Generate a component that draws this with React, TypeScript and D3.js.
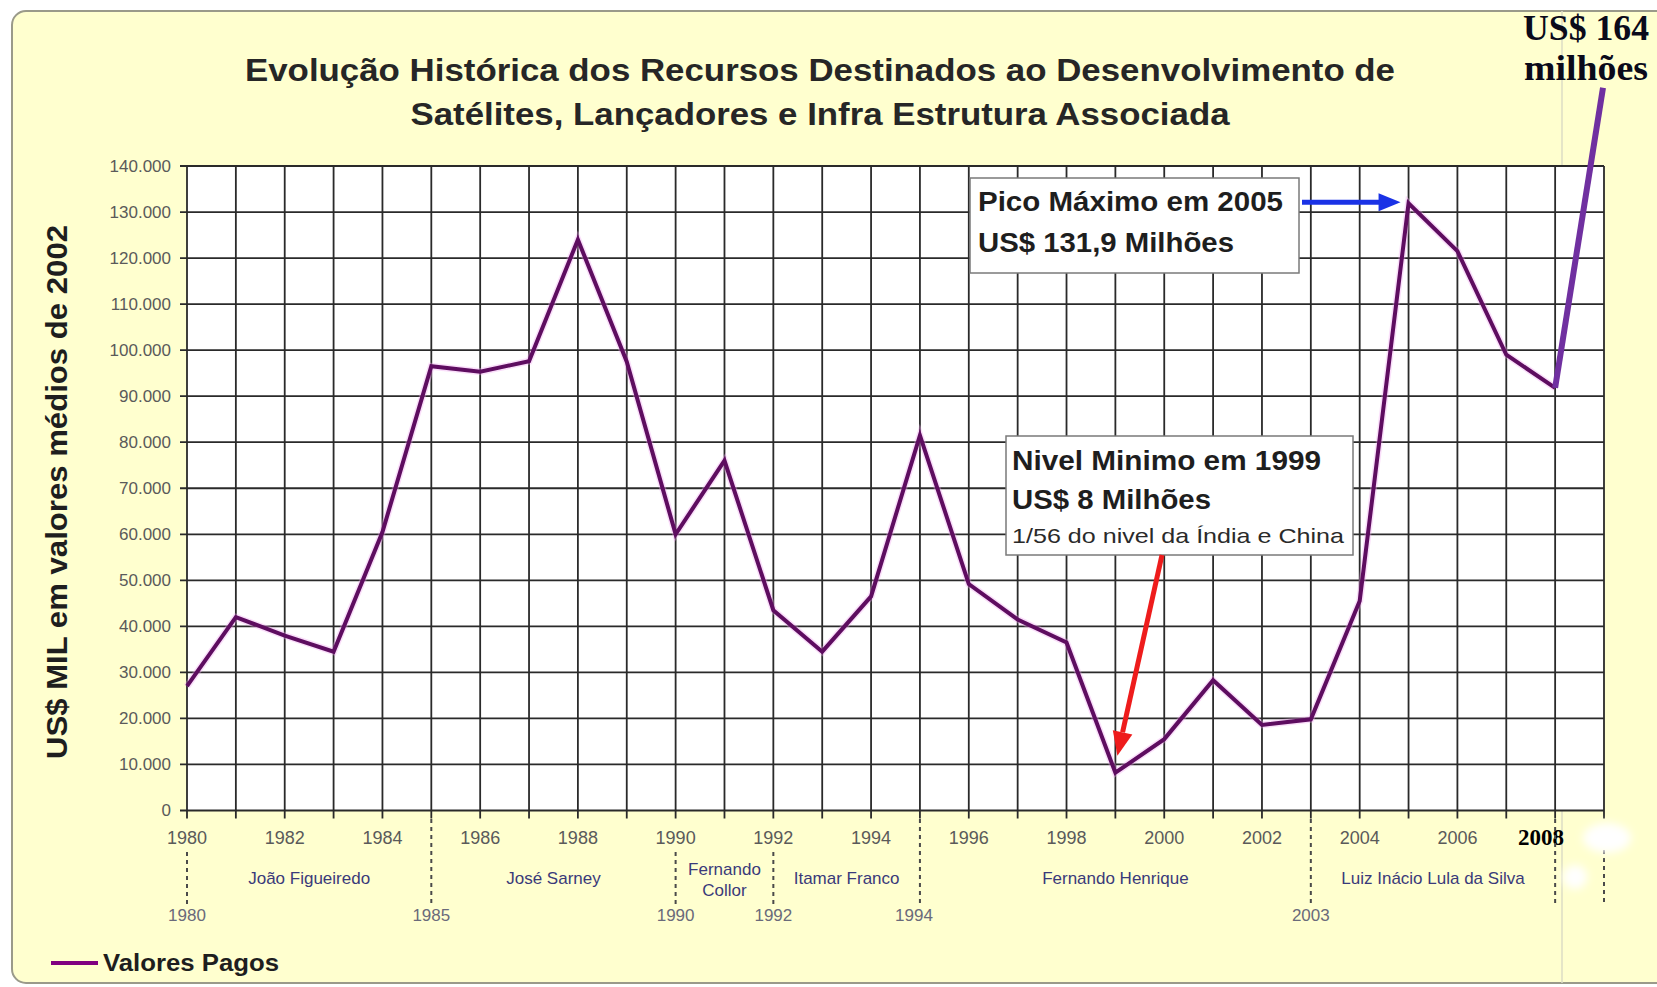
import React from "react";
import * as d3 from "d3";

const years = [1980,1981,1982,1983,1984,1985,1986,1987,1988,1989,1990,1991,1992,1993,1994,1995,1996,1997,1998,1999,2000,2001,2002,2003,2004,2005,2006,2007,2008];
const valoresPagos = [27000,42000,38000,34500,60500,96500,95300,97600,124000,97500,60000,76000,43500,34500,46500,81500,49200,41500,36500,8200,15500,28300,18600,19800,45500,131900,121500,99000,91800];
const yTicks = [0,10000,20000,30000,40000,50000,60000,70000,80000,90000,100000,110000,120000,130000,140000];
const xTickYears = [1980,1982,1984,1986,1988,1990,1992,1994,1996,1998,2000,2002,2004,2006];
const govNames = ["João Figueiredo","José Sarney","Fernando\nCollor","Itamar Franco","Fernando Henrique","Luiz Inácio Lula da Silva"];
const govStart = [1980,1985,1990,1992,1995,2003];
const govEnd = [1985,1990,1992,1995,2003,2008];
const govBoundaryYears = [1980,1985,1990,1992,1995,2003,2008,2009];
const govBoundaryLabels = ["1980","1985","1990","1992","1994","2003","",""];
const titleLines = ["Evolução Histórica dos Recursos Destinados ao Desenvolvimento de","Satélites, Lançadores e Infra Estrutura Associada"];
const yAxisLabel = "US$ MIL em valores médios de 2002";
const peakText = ["Pico Máximo em 2005","US$ 131,9 Milhões"];
const minText = ["Nivel Minimo em 1999","US$ 8 Milhões","1/56 do nivel da Índia e China"];
const pointerLabel = ["US$ 164","milhões"];
const pointerEnd = { year: 2009, value: 157000 };

const W = 1657, H = 987;
const left = 187, right = 1604, top = 166, bottom = 810.5;
const SANS = "'Liberation Sans', Arial, sans-serif";
const SERIF = "'Liberation Serif', 'Times New Roman', serif";

export default function App() {
  const x = d3.scaleLinear().domain([1980, 2009]).range([left, right]);
  const y = d3.scaleLinear().domain([0, 140000]).range([bottom, top]);
  const loc = d3.formatLocale({ decimal: ",", thousands: ".", grouping: [3], currency: ["", ""] });
  const fmt = loc.format(",d");
  const line = d3.line<number>().x((_, i) => x(years[i])).y(d => y(d));
  const gridYears = d3.range(1980, 2010);

  const peakX = x(2005), peakY = y(131900);
  const minX = x(1999), minY = y(8200);
  const lastX = x(2008), lastY = y(91800);

  return (
    <div style={{ position: "absolute", left: 0, top: 0 }}>
      <svg width={W} height={H} style={{ display: "block" }}>
        <defs>
          <filter id="blur" x="-50%" y="-50%" width="200%" height="200%">
            <feGaussianBlur stdDeviation="4" />
          </filter>
        </defs>
        <rect x={0} y={0} width={W} height={H} fill="#ffffff" />
        <rect x={12} y={11} width={1700} height={972} rx={14} fill="#FFFFCF" stroke="#9a9a8a" strokeWidth={2} />
        <line x1={1562} x2={1562} y1={11} y2={983} stroke="#dcdcc4" strokeWidth={1.5} />

        {/* title */}
        {titleLines.map((t, i) => (
          <text key={i} x={820} y={81 + i * 44} textAnchor="middle" fontFamily={SANS} fontWeight="bold" fontSize={32}
            fill="#262626" textLength={i === 0 ? 1150 : 819} lengthAdjust="spacingAndGlyphs">{t}</text>
        ))}

        {/* y label */}
        <text transform={`translate(57,492) rotate(-90)`} textAnchor="middle" dominantBaseline="central"
          fontFamily={SANS} fontWeight="bold" fontSize={29} fill="#1e1e1e" textLength={534} lengthAdjust="spacingAndGlyphs">{yAxisLabel}</text>

        {/* plot area */}
        <rect x={left} y={top} width={right - left} height={bottom - top} fill="#ffffff" />
        {yTicks.map(t => (
          <g key={t}>
            <line x1={left - 7} x2={right} y1={y(t)} y2={y(t)} stroke="#2a2a2a" strokeWidth={1.8} />
            <text x={171} y={y(t)} dy="0.35em" textAnchor="end" fontFamily={SANS} fontSize={17} fill="#5a5a5a">{fmt(t)}</text>
          </g>
        ))}
        {gridYears.map(yr => (
          <line key={yr} x1={x(yr)} x2={x(yr)} y1={top} y2={bottom + 8} stroke="#2a2a2a" strokeWidth={1.8} />
        ))}
        {xTickYears.map(yr => (
          <text key={yr} x={x(yr)} y={844} textAnchor="middle" fontFamily={SANS} fontSize={18} fill="#5a5a5a">{yr}</text>
        ))}
        <text x={1541} y={845} textAnchor="middle" fontFamily={SERIF} fontWeight="bold" fontSize={23} fill="#000">2008</text>

        {/* government periods */}
        {govBoundaryYears.map((yr, i) => {
          const startY = [1980, 1990, 1992].includes(yr) ? 852 : yr === 2009 ? 850 : 819;
          return (
            <g key={yr}>
              <line x1={x(yr)} x2={x(yr)} y1={startY} y2={904} stroke="#4a4a4a" strokeWidth={2} strokeDasharray="4,4" />
              {govBoundaryLabels[i] && (
                <text x={x(yr) - (yr === 1995 ? 6 : 0)} y={921} textAnchor="middle" fontFamily={SANS} fontSize={17} fill="#6a6a7a">{govBoundaryLabels[i]}</text>
              )}
            </g>
          );
        })}
        {govNames.map((n, i) => {
          const cx = x((govStart[i] + govEnd[i]) / 2);
          const parts = n.split("\n");
          return parts.map((p, j) => (
            <text key={i + "-" + j} x={cx} y={parts.length > 1 ? 875 + j * 21 : 884} textAnchor="middle"
              fontFamily={SANS} fontSize={17} fill="#3a3a7a">{p}</text>
          ));
        })}

        {/* white blobs */}
        <ellipse cx={1607} cy={838} rx={24} ry={15} fill="#ffffff" filter="url(#blur)" />
        <ellipse cx={1575} cy={877} rx={12} ry={12} fill="#ffffff" filter="url(#blur)" />

        {/* data line */}
        <path d={line(valoresPagos) || ""} fill="none" stroke="#f0a0f0" strokeWidth={7} strokeLinejoin="miter" opacity={0.35} />
        <path d={line(valoresPagos) || ""} fill="none" stroke="#5E0D60" strokeWidth={4} strokeLinejoin="miter" />

        {/* pointer to 164 */}
        <line x1={lastX} y1={lastY} x2={x(pointerEnd.year) - 1} y2={y(pointerEnd.value)} stroke="#7030A0" strokeWidth={6} />
        {pointerLabel.map((t, i) => (
          <text key={i} x={1586} y={40 + i * 40} textAnchor="middle" fontFamily={SERIF} fontWeight="bold" fontSize={36}
            fill="#0a0a1a" textLength={i === 0 ? 126 : 124} lengthAdjust="spacingAndGlyphs">{t}</text>
        ))}

        {/* peak annotation */}
        <rect x={970} y={178} width={329} height={95} fill="#ffffff" stroke="#7a7a7a" strokeWidth={1.5} />
        <text x={978} y={211} fontFamily={SANS} fontWeight="bold" fontSize={27} fill="#1e1e1e" textLength={305} lengthAdjust="spacingAndGlyphs">{peakText[0]}</text>
        <text x={978} y={252} fontFamily={SANS} fontWeight="bold" fontSize={27} fill="#1e1e1e" textLength={256} lengthAdjust="spacingAndGlyphs">{peakText[1]}</text>
        <line x1={1302} y1={peakY - 1} x2={peakX - 26} y2={peakY - 1} stroke="#1a32e6" strokeWidth={5} />
        <polygon points={`${peakX - 8},${peakY - 1} ${peakX - 30},${peakY - 10} ${peakX - 30},${peakY + 8}`} fill="#1a32e6" />

        {/* min annotation */}
        <rect x={1006} y={436} width={347} height={119} fill="#ffffff" stroke="#7a7a7a" strokeWidth={1.5} />
        <text x={1012} y={470} fontFamily={SANS} fontWeight="bold" fontSize={27} fill="#1e1e1e" textLength={309} lengthAdjust="spacingAndGlyphs">{minText[0]}</text>
        <text x={1012} y={509} fontFamily={SANS} fontWeight="bold" fontSize={27} fill="#1e1e1e" textLength={199} lengthAdjust="spacingAndGlyphs">{minText[1]}</text>
        <text x={1012} y={543} fontFamily={SANS} fontSize={21} fill="#2a2a2a" textLength={332} lengthAdjust="spacingAndGlyphs">{minText[2]}</text>
        {(() => {
          const x1 = 1162, y1 = 555, x2 = minX + 2, y2 = minY - 17;
          const ang = Math.atan2(y2 - y1, x2 - x1);
          const hl = 24, hw = 10;
          const bx = x2 - hl * Math.cos(ang), by = y2 - hl * Math.sin(ang);
          const px = -Math.sin(ang) * hw, py = Math.cos(ang) * hw;
          return (
            <g>
              <line x1={x1} y1={y1} x2={bx} y2={by} stroke="#ee1c1c" strokeWidth={5} />
              <polygon points={`${x2},${y2} ${bx + px},${by + py} ${bx - px},${by - py}`} fill="#ee1c1c" />
            </g>
          );
        })()}

        {/* legend */}
        <line x1={51} x2={98} y1={963} y2={963} stroke="#800080" strokeWidth={4} />
        <text x={103} y={971} fontFamily={SANS} fontWeight="bold" fontSize={23} fill="#1e1e1e" textLength={176} lengthAdjust="spacingAndGlyphs">Valores Pagos</text>
      </svg>
    </div>
  );
}
